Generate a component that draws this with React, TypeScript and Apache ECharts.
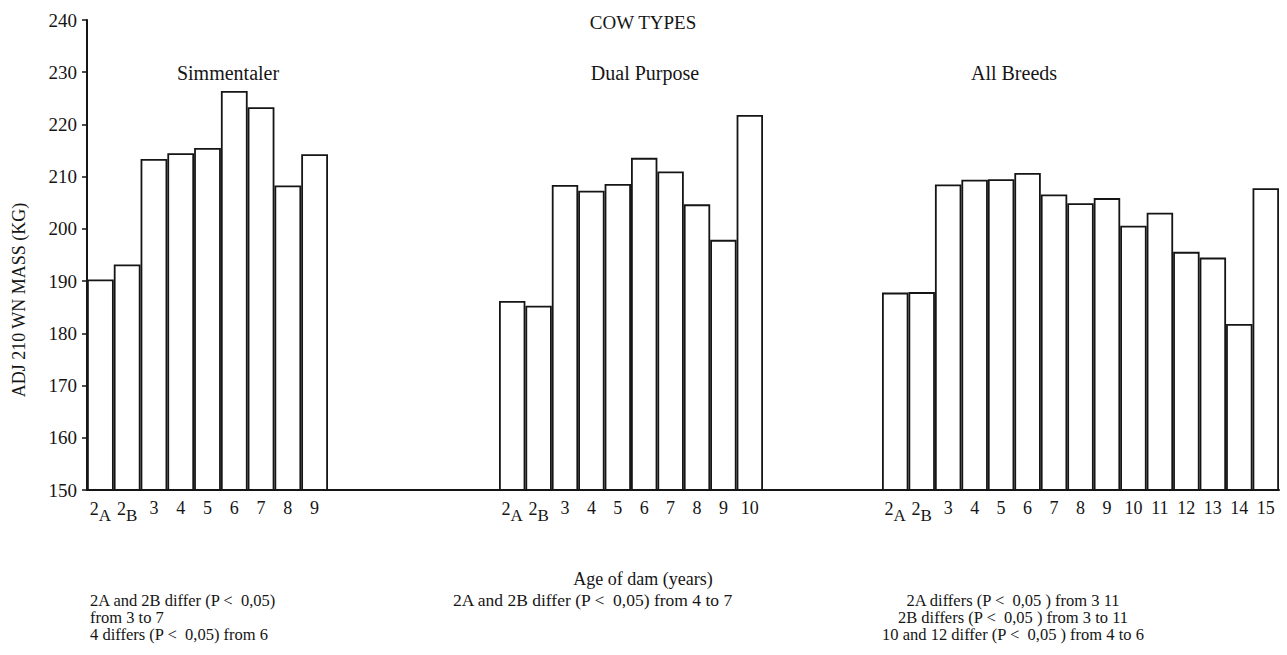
import React, { useEffect, useRef } from "react";
import * as echarts from "echarts";

const yTicks = { min: 150, max: 240, interval: 10 };

const simAges = ["2A", "2B", "3", "4", "5", "6", "7", "8", "9"];
const simValues = [190.3, 193.2, 213.4, 214.5, 215.5, 226.4, 223.3, 208.3, 214.3];

const dualAges = ["2A", "2B", "3", "4", "5", "6", "7", "8", "9", "10"];
const dualValues = [186.2, 185.3, 208.4, 207.3, 208.6, 213.6, 211.0, 204.7, 197.9, 221.8];

const allAges = ["2A", "2B", "3", "4", "5", "6", "7", "8", "9", "10", "11", "12", "13", "14", "15"];
const allValues = [187.8, 187.9, 208.5, 209.4, 209.5, 210.7, 206.6, 204.9, 205.9, 200.6, 203.1, 195.6, 194.5, 181.8, 207.8];

const groupTitles = ["Simmentaler", "Dual Purpose", "All Breeds"];
const mainTitle = "COW TYPES";
const yName = "ADJ 210 WN MASS (KG)";
const xName = "Age of dam (years)";
const notesLeft = ["2A and 2B differ (P <  0,05)", "from 3 to 7", "4 differs (P <  0,05) from 6"];
const notesMid = ["2A and 2B differ (P <  0,05) from 4 to 7"];
const notesRight = [
  "2A differs (P <  0,05 ) from 3 11",
  "2B differs (P <  0,05 ) from 3 to 11",
  "10 and 12 differ (P <  0,05 ) from 4 to 6",
];

const FONT = "'Liberation Serif', 'DejaVu Serif', serif";
const INK = "#151515";

export default function App() {
  const ref = useRef<HTMLDivElement>(null);
  useEffect(() => {
    document.body.style.margin = "0";
    const chart = echarts.init(ref.current!, null, { renderer: "svg" });

    const groups = [
      { ages: simAges, values: simValues, left: 87, width: 241, cx: 228 },
      { ages: dualAges, values: dualValues, left: 499, width: 264, cx: 645 },
      { ages: allAges, values: allValues, left: 882, width: 397, cx: 1014 },
    ];

    const top = 20;
    const height = 470;

    const grids: any[] = [{ left: 87, top, width: 1192, height }];
    const xAxes: any[] = [
      {
        gridIndex: 0,
        type: "value",
        min: 0,
        max: 1,
        axisLine: { show: true, lineStyle: { color: INK, width: 2 } },
        axisTick: { show: false },
        axisLabel: { show: false },
        splitLine: { show: false },
      },
    ];
    const yAxes: any[] = [
      {
        gridIndex: 0,
        type: "value",
        min: yTicks.min,
        max: yTicks.max,
        interval: yTicks.interval,
        axisLine: { show: true, lineStyle: { color: INK, width: 2 } },
        axisTick: { show: true, inside: false, length: 5, lineStyle: { color: INK, width: 1.5 } },
        axisLabel: { show: true, margin: 10, fontFamily: FONT, fontSize: 19, color: INK },
        splitLine: { show: false },
      },
    ];
    const series: any[] = [];

    const fmt = (name: string) => {
      const m = /^2([AB])$/.exec(name);
      if (m) return `{n|2}{s|${m[1]}}`;
      return `{n|${name}}`;
    };

    groups.forEach((g, i) => {
      const gi = i + 1;
      grids.push({ left: g.left, top, width: g.width, height });
      xAxes.push({
        gridIndex: gi,
        type: "category",
        data: g.ages,
        boundaryGap: true,
        axisLine: { show: false },
        axisTick: { show: false },
        axisLabel: {
          show: true,
          interval: 0,
          margin: 9,
          formatter: fmt,
          rich: {
            n: { fontFamily: FONT, fontSize: 18, color: INK, padding: [0, 0, 6, 0] },
            s: { fontFamily: FONT, fontSize: 17, color: INK, padding: [8, 0, 0, 0] },
          },
        },
        splitLine: { show: false },
      });
      yAxes.push({
        gridIndex: gi,
        type: "value",
        min: yTicks.min,
        max: yTicks.max,
        show: false,
        splitLine: { show: false },
      });
      series.push({
        type: "bar",
        xAxisIndex: gi,
        yAxisIndex: gi,
        data: g.values,
        barWidth: "100%",
        barCategoryGap: "0%",
        itemStyle: { color: "#ffffff", borderColor: INK, borderWidth: 1.8 },
        emphasis: { disabled: true },
      });
    });

    const text = (t: string, x: number, y: number, size: number, align = "center", extra: any = {}) => ({
      type: "text",
      x,
      y,
      ...extra,
      style: {
        text: t,
        fill: INK,
        font: `${size}px ${FONT}`,
        fontSize: size,
        fontFamily: FONT,
        align,
        textAlign: align,
        verticalAlign: "middle",
        textVerticalAlign: "middle",
      },
    });

    const graphics: any[] = [
      text(mainTitle, 643, 22, 19),
      ...groups.map((g, i) => text(groupTitles[i], g.cx, 73, 20)),
      text(yName, 19, 300, 18, "center", { rotation: Math.PI / 2 }),
      text(xName, 643, 579, 18),
      ...notesLeft.map((t, i) => text(t, 90, 600 + i * 17, 16.5, "left")),
      ...notesMid.map((t, i) => text(t, 453, 600 + i * 17, 17.5, "left")),
      ...notesRight.map((t, i) => text(t, 1013, 600 + i * 17, 16.5, "center")),
    ];

    chart.setOption({
      animation: false,
      backgroundColor: "#ffffff",
      grid: grids,
      xAxis: xAxes,
      yAxis: yAxes,
      series,
      graphic: graphics,
    });

    return () => chart.dispose();
  }, []);

  return <div ref={ref} style={{ width: 1287, height: 655 }} />;
}
